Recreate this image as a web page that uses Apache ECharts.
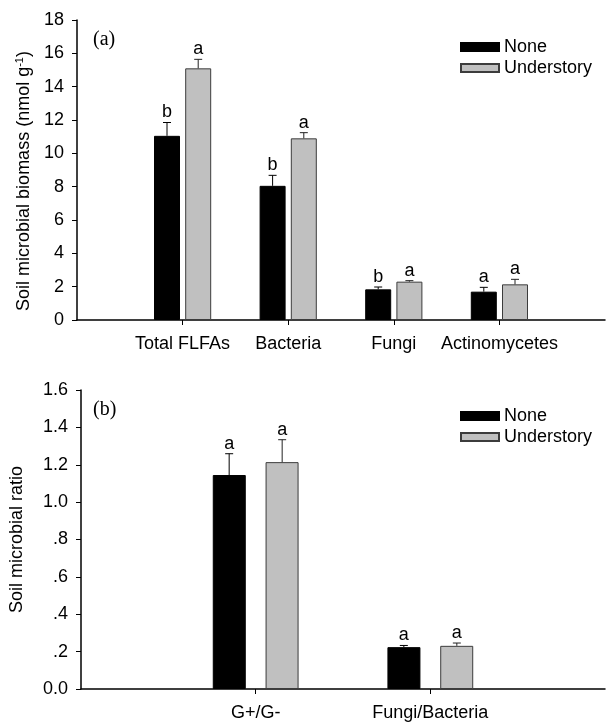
<!DOCTYPE html>
<html>
<head>
<meta charset="utf-8">
<script src="https://cdn.jsdelivr.net/npm/echarts@6/dist/echarts.min.js"></script>
<style>
  html, body { margin: 0; padding: 0; background: #fff; }
  #chart { width: 608px; height: 725px; }
</style>
</head>
<body>
<div id="chart"></div>
<script>
// panel (a) - biomass
var categoriesA = ['Total FLFAs', 'Bacteria', 'Fungi', 'Actinomycetes'];
var noneA = [11.05, 8.05, 1.84, 1.70];
var noneSeA = [0.80, 0.63, 0.14, 0.26];
var underA = [15.10, 10.90, 2.30, 2.14];
var underSeA = [0.54, 0.34, 0.06, 0.30];
var noneLetterA = ['b', 'b', 'b', 'a'];
var underLetterA = ['a', 'a', 'a', 'a'];

// panel (b) - ratios
var categoriesB = ['G+/G-', 'Fungi/Bacteria'];
var noneB = [1.145, 0.224];
var noneSeB = [0.114, 0.009];
var underB = [1.214, 0.231];
var underSeB = [0.120, 0.015];
var noneLetterB = ['a', 'a'];
var underLetterB = ['a', 'a'];

var FONT = "'Liberation Sans', Arial, sans-serif";
var FS = 18;

function pad(arr, blank) {
	return [blank].concat(arr, [blank]);
}

function errData(means, se) {
	return means.map(function (m, i) { return [i + 1, m, m + se[i]]; });
}

function errSeries(grid, means, se, letters, offset, color) {
	return {
		type: 'custom',
		xAxisIndex: grid,
		yAxisIndex: grid,
		z: 5,
		silent: true,
		data: errData(means, se),
		renderItem: function (params, api) {
			var base = api.coord([api.value(0), api.value(1)]);
			var top = api.coord([api.value(0), api.value(2)]);
			var x = base[0] + offset;
			return {
				type: 'group',
				children: [
					{ type: 'line', shape: { x1: x, y1: base[1], x2: x, y2: top[1] }, style: { stroke: color, lineWidth: 1 } },
					{ type: 'line', shape: { x1: x - 4, y1: top[1], x2: x + 4, y2: top[1] }, style: { stroke: color, lineWidth: 1 } },
					{ type: 'text', style: { text: letters[params.dataIndex], x: x, y: top[1] - 1, align: 'center', verticalAlign: 'bottom', fontSize: FS, fontFamily: FONT, fill: '#000' } }
				]
			};
		}
	};
}

function xAxisFor(grid, cats) {
	return {
		type: 'category',
		gridIndex: grid,
		data: pad(cats, ''),
		boundaryGap: false,
		axisLine: { lineStyle: { color: '#000', width: 1.5 } },
		axisTick: { inside: false, length: 5, interval: function (i, v) { return v !== ''; }, lineStyle: { color: '#000' } },
		axisLabel: { interval: 0, margin: 15, fontSize: FS, fontFamily: FONT, color: '#000' },
		splitLine: { show: false }
	};
}

function barSeries(grid, name, values, width, gap, fill, border) {
	return {
		type: 'bar',
		name: name,
		xAxisIndex: grid,
		yAxisIndex: grid,
		data: pad(values, null),
		barWidth: width,
		barGap: gap,
		itemStyle: { color: fill, borderColor: border, borderWidth: 1 }
	};
}

function legendFor(top) {
	return {
		orient: 'vertical',
		left: 455,
		top: top,
		itemWidth: 38,
		itemHeight: 8,
		itemGap: 3,
		icon: 'rect',
		data: ['None', 'Understory'],
		textStyle: { fontSize: FS, fontFamily: FONT, color: '#000' }
	};
}

var chart = echarts.init(document.getElementById('chart'));
chart.setOption({
	backgroundColor: '#fff',
	animation: false,
	legend: [legendFor(33), legendFor(402)],
	grid: [
		{ left: 77, top: 20, width: 535, height: 300 },
		{ left: 77, top: 390, width: 535, height: 299 }
	],
	graphic: [
		{ type: 'text', left: 93, top: 30, style: { text: '(a)', fontSize: 20, fontFamily: "'Liberation Serif', 'Times New Roman', serif", fill: '#000' } },
		{ type: 'text', left: 93, top: 400, style: { text: '(b)', fontSize: 20, fontFamily: "'Liberation Serif', 'Times New Roman', serif", fill: '#000' } }
	],
	xAxis: [xAxisFor(0, categoriesA), xAxisFor(1, categoriesB)],
	yAxis: [
		{
			type: 'value', gridIndex: 0, min: 0, max: 18, interval: 2,
			name: 'Soil microbial biomass (nmol g{sup|-1})',
			nameLocation: 'middle', nameGap: 43, nameRotate: 90,
			nameTextStyle: { fontSize: FS, fontFamily: FONT, color: '#000', padding: [0, 22, 0, 0], rich: { sup: { fontSize: 11, fontFamily: FONT, color: '#000', verticalAlign: 'top', padding: [0, 0, 8, 0] } } },
			axisLine: { show: true, lineStyle: { color: '#000', width: 1.5 } },
			axisTick: { show: true, length: 5, lineStyle: { color: '#000' } },
			axisLabel: { margin: 13, fontSize: FS, fontFamily: FONT, color: '#000' },
			splitLine: { show: false }
		},
		{
			type: 'value', gridIndex: 1, min: 0, max: 1.6, interval: 0.2,
			name: 'Soil microbial ratio',
			nameLocation: 'middle', nameGap: 55, nameRotate: 90,
			nameTextStyle: { fontSize: FS, fontFamily: FONT, color: '#000' },
			axisLine: { show: true, lineStyle: { color: '#000', width: 1.5 } },
			axisTick: { show: true, length: 5, lineStyle: { color: '#000' } },
			axisLabel: {
				margin: 13, fontSize: FS, fontFamily: FONT, color: '#000',
				formatter: function (v) {
					var s = v.toFixed(1);
					return (v > 0 && v < 1) ? s.replace(/^0/, '') : s;
				}
			},
			splitLine: { show: false }
		}
	],
	series: [
		barSeries(0, 'None', noneA, 26, '20%', '#000', '#000'),
		barSeries(0, 'Understory', underA, 26, '20%', '#c0c0c0', '#3c3c3c'),
		barSeries(1, 'None', noneB, 33, '60%', '#000', '#000'),
		barSeries(1, 'Understory', underB, 33, '60%', '#c0c0c0', '#3c3c3c'),
		errSeries(0, noneA, noneSeA, noneLetterA, -15.6, '#000'),
		errSeries(0, underA, underSeA, underLetterA, 15.6, '#222'),
		errSeries(1, noneB, noneSeB, noneLetterB, -26.5, '#000'),
		errSeries(1, underB, underSeB, underLetterB, 26.5, '#222')
	]
});
</script>
</body>
</html>
